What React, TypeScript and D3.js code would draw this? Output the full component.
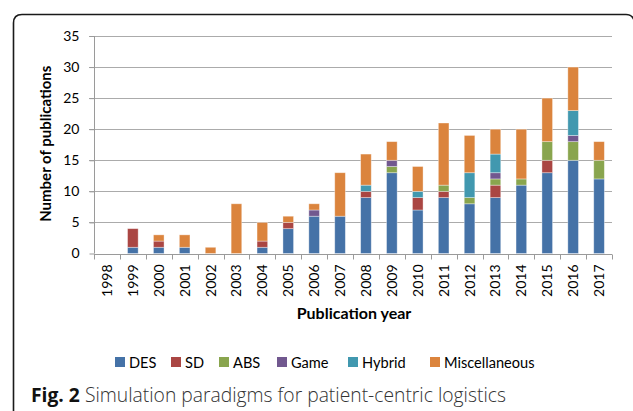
import React, { useRef, useEffect } from 'react';
import * as d3 from 'd3';

const years = ['1998','1999','2000','2001','2002','2003','2004','2005','2006','2007','2008','2009','2010','2011','2012','2013','2014','2015','2016','2017'];
const DES    = [0,1,1,1,0,0,1,4,6,6,9,13,7,9,8,9,11,13,15,12];
const SD     = [0,3,1,0,0,0,1,1,0,0,1,0,2,1,0,2,0,2,0,0];
const ABS    = [0,0,0,0,0,0,0,0,0,0,0,1,0,1,1,1,1,3,3,3];
const Game   = [0,0,0,0,0,0,0,0,1,0,0,1,0,0,0,1,0,0,1,0];
const Hybrid = [0,0,0,0,0,0,0,0,0,0,1,0,1,0,4,3,0,0,4,0];
const Misc   = [0,0,1,2,1,8,3,1,1,7,5,3,4,10,6,4,8,7,7,3];

const seriesNames = ['DES', 'SD', 'ABS', 'Game', 'Hybrid', 'Miscellaneous'];
const seriesValues = [DES, SD, ABS, Game, Hybrid, Misc];
const colors = ['#4572A7', '#AA4643', '#89A54E', '#71588F', '#4198AF', '#DB843D'];
const yTicks = [0, 5, 10, 15, 20, 25, 30, 35];

const W = 633, H = 411;
const margin = { left: 94, right: 21, top: 36, bottom: 158 };

export default function App() {
  const svgRef = useRef(null);

  useEffect(() => {
    const svg = d3.select(svgRef.current);
    svg.selectAll('*').remove();
    const font = 'Lato, sans-serif';

    const rows = years.map((y, i) => {
      const r: any = { year: y };
      seriesNames.forEach((s, k) => { r[s] = seriesValues[k][i]; });
      return r;
    });

    const x = d3.scaleBand().domain(years).range([margin.left, W - margin.right]).paddingInner(0.59).paddingOuter(0.295);
    const xEdges = d3.scaleLinear().domain([0, years.length]).range([margin.left, W - margin.right]);
    const y = d3.scaleLinear().domain([0, 35]).range([H - margin.bottom + 0.5, margin.top]);

    // frame
    svg.append('path')
      .attr('d', `M13.5,${H + 2} L13.5,23 Q13.5,14.5 22,14.5 L626,14.5 Q632,14.5 634,20`)
      .attr('fill', 'none').attr('stroke', '#1a1a1a').attr('stroke-width', 1.6);

    // grid
    svg.append('g').selectAll('line').data(yTicks.slice(1)).join('line')
      .attr('x1', margin.left - 5).attr('x2', W - margin.right)
      .attr('y1', d => Math.round(y(d)) + 0.5).attr('y2', d => Math.round(y(d)) + 0.5)
      .attr('stroke', '#ababab').attr('stroke-width', 1);

    // bars
    const stack = d3.stack().keys(seriesNames)(rows as any);
    svg.append('g').selectAll('g').data(stack).join('g')
      .attr('fill', (d, i) => colors[i])
      .selectAll('rect').data(d => d.filter(p => p[1] > p[0])).join('rect')
      .attr('x', (d: any) => x(d.data.year))
      .attr('width', x.bandwidth())
      .attr('y', d => y(d[1]))
      .attr('height', d => y(d[0]) - y(d[1]))
      .attr('stroke', 'rgba(255,255,255,0.45)').attr('stroke-width', 0.8);

    // y axis
    const yAxis = svg.append('g').attr('transform', `translate(${margin.left + 0.5},0)`)
      .call(d3.axisLeft(y).tickValues(yTicks).tickSize(5).tickPadding(10));
    yAxis.select('.domain').attr('stroke', '#9a9a9a').attr('d', `M0,${y(0)}V${y(35)}`);
    yAxis.selectAll('.tick line').attr('stroke', '#9a9a9a');
    yAxis.selectAll('text').attr('font-family', font).attr('font-size', 14).attr('fill', '#000');

    // x axis
    const baseY = Math.round(y(0)) + 0.5;
    svg.append('line').attr('x1', margin.left).attr('x2', W - margin.right)
      .attr('y1', baseY).attr('y2', baseY).attr('stroke', '#9a9a9a');
    svg.append('g').selectAll('line').data(d3.range(years.length + 1)).join('line')
      .attr('x1', i => Math.round(xEdges(i)) + 0.5).attr('x2', i => Math.round(xEdges(i)) + 0.5)
      .attr('y1', baseY).attr('y2', baseY + 5).attr('stroke', '#9a9a9a');
    svg.append('g').selectAll('text').data(years).join('text')
      .attr('transform', d => `translate(${x(d)! + x.bandwidth() / 2 + 5},${baseY + 10}) rotate(-90)`)
      .attr('text-anchor', 'end')
      .attr('font-family', font).attr('font-size', 14).attr('fill', '#000')
      .text(d => d);

    // axis titles
    svg.append('text').attr('x', 354).attr('y', 319).attr('text-anchor', 'middle')
      .attr('font-family', font).attr('font-weight', 'bold').attr('font-size', 16)
      .text('Publication year');
    svg.append('text').attr('transform', `translate(51,${(y(0) + y(35)) / 2 - 1}) rotate(-90)`)
      .attr('text-anchor', 'middle')
      .attr('font-family', font).attr('font-weight', 'bold').attr('font-size', 15)
      .text('Number of publications');

    // legend
    const legendX = [115, 171, 219, 277, 348, 430];
    const lg = svg.append('g').selectAll('g').data(seriesNames).join('g')
      .attr('transform', (d, i) => `translate(${legendX[i]},357)`);
    lg.append('rect').attr('width', 10).attr('height', 10).attr('fill', (d, i) => colors[i]);
    lg.append('text').attr('x', 14).attr('y', 10.5).attr('font-family', font).attr('font-size', 14.6)
      .text(d => d);

    // caption
    const cap = svg.append('text').attr('x', 31).attr('y', 402).attr('font-family', '"Open Sans", sans-serif').attr('font-size', 19.3);
    cap.append('tspan').attr('font-weight', 'bold').attr('fill', '#111').text('Fig. 2');
    cap.append('tspan').attr('fill', '#333').attr('font-weight', 300).text(' Simulation paradigms for patient-centric logistics');
  }, []);

  return (
    <div style={{ position: 'fixed', left: 0, top: 0 }}>
      <svg ref={svgRef} width={W} height={H} style={{ display: 'block', background: '#fff' }} />
    </div>
  );
}
